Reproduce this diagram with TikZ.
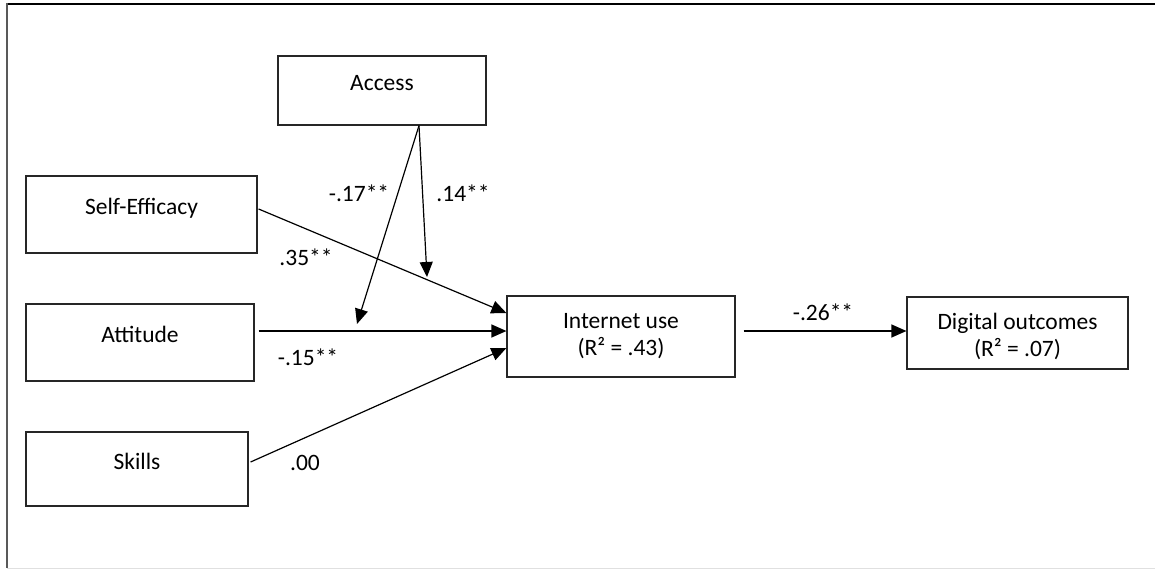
\documentclass[tikz,border=0pt]{standalone}
\usepackage{fontspec}
\setmainfont{Carlito}
\usetikzlibrary{arrows.meta}
\begin{document}
\begin{tikzpicture}[x=1pt,y=-1pt,
  box/.style={draw=black!85,line width=1.2pt,rectangle,inner sep=0pt,align=center,
    font=\fontsize{23.5}{27}\selectfont},
  path/.style={draw=black,line width=1.2pt,-{Triangle[length=15pt,width=13pt]}},
  coef/.style={inner sep=0pt,font=\fontsize{23.5}{27}\selectfont}]
\useasboundingbox (0,0) rectangle (1155,569);
% outer frame
\draw[black,line width=1.5pt] (7,4) -- (1156,4);
\draw[black!65,line width=2pt] (7,3.5) -- (7,568);
\draw[black!12,line width=1pt] (7,568) -- (1156,568);

% variables (single-line labels sit with their baseline on the box centre)
\node[box,minimum width=208pt,minimum height=69pt] (ac) at (382,90.5) {\raisebox{0pt}[0pt][0pt]{Access}};
\node[box,minimum width=231pt,minimum height=77pt] (se) at (141.5,214.5) {\raisebox{0pt}[0pt][0pt]{Self-Efficacy}};
\node[box,minimum width=228pt,minimum height=77pt] (at) at (140,342.5) {\raisebox{0pt}[0pt][0pt]{Attitude}};
\node[box,minimum width=222pt,minimum height=74pt] (sk) at (137,469) {\raisebox{0pt}[0pt][0pt]{Skills}};
\node[box,minimum width=228pt,minimum height=81pt] (iu) at (621,336.5) {Internet use\\(R² = .43)};
\node[box,minimum width=221pt,minimum height=72pt,
  label={[inner sep=0pt,align=center,font=\fontsize{23.5}{27}\selectfont,yshift=-3pt]center:Digital outcomes\\(R² = .07)}]
  (do) at (1017.5,333) {};

% moderation targets on the paths
\coordinate (m1) at (427,277);
\coordinate (m2) at (357,324);

% paths
\draw[path] ([shift={(1,-5.5)}]se.east) -- ([yshift=23.5pt]iu.west);
\draw[path] ([xshift=4]at.east |- 0,331) -- (iu.west |- 0,331);
\draw[path] ([shift={(2,-7)}]sk.east) -- ([yshift=-11.5pt]iu.west);
\draw[path] ([xshift=37]ac.south) -- (m1);
\draw[path] ([xshift=37]ac.south) -- (m2);
\draw[path] ([xshift=8]iu.east |- 0,331) -- (do.west |- 0,331);

% coefficients
\node[coef] (c1) at (359,193) {-.17**};
\node[coef] (c2) at (463,193) {.14**};
\node[coef] (c3) at (306,257) {.35**};
\node[coef] (c4) at (308,357) {-.15**};
\node[coef] (c5) at (305,463) {.00};
\node[coef] (c6) at (823,312) {-.26**};
\end{tikzpicture}
\end{document}
